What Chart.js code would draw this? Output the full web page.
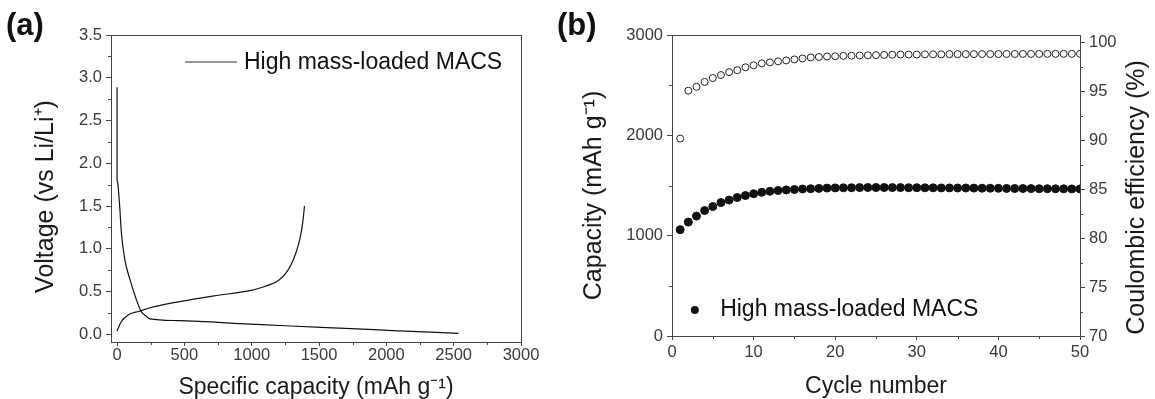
<!DOCTYPE html>
<html>
<head>
<meta charset="utf-8">
<script src="https://cdn.jsdelivr.net/npm/chart.js@4.4.1/dist/chart.umd.min.js"></script>
<style>
  html, body { margin: 0; padding: 0; background: #fff; }
  #wrap { position: relative; width: 1155px; height: 399px; overflow: hidden; }
  canvas { position: absolute; top: 0; }
  #cA { left: 0; }
  #cB { left: 560px; }
  .tag { position: absolute; top: 7px; font: bold 31px "Liberation Sans", Arial, sans-serif; color: #111; }
</style>
</head>
<body>
<div id="wrap">
  <canvas id="cA" width="560" height="399"></canvas>
  <canvas id="cB" width="595" height="399"></canvas>
  <div class="tag" style="left:6px">(a)</div>
  <div class="tag" style="left:557px">(b)</div>
</div>
<script>
/* ---------- DATA: (a) charge / discharge profile ---------- */
const dischargeCap = [0, 0, 5, 19, 32, 58, 98, 138, 178, 217, 244, 456, 986, 1251, 1781, 2046, 2536];
const dischargeV   = [2.89, 1.80, 1.77, 1.51, 1.19, 0.87, 0.63, 0.43, 0.27, 0.21, 0.18, 0.16, 0.12, 0.10, 0.064, 0.044, 0.012];
const chargeCap = [0, 32, 85, 164, 244, 456, 721, 986, 1080, 1150, 1198, 1251, 1291, 1330, 1360, 1380, 1392];
const chargeV   = [0.04, 0.15, 0.23, 0.27, 0.31, 0.38, 0.45, 0.51, 0.55, 0.59, 0.63, 0.71, 0.81, 0.96, 1.13, 1.32, 1.50];
const capTicks  = [0, 500, 1000, 1500, 2000, 2500, 3000];
const voltTicks = [0, 0.5, 1, 1.5, 2, 2.5, 3, 3.5];

/* ---------- DATA: (b) cycling ---------- */
const cycles = [1,2,3,4,5,6,7,8,9,10,11,12,13,14,15,16,17,18,19,20,21,22,23,24,25,
                26,27,28,29,30,31,32,33,34,35,36,37,38,39,40,41,42,43,44,45,46,47,48,49,50];
const capacity = [1060,1135,1195,1250,1290,1330,1355,1380,1400,1418,1432,1442,1450,1456,1460,
                  1465,1468,1471,1474,1476,1477,1478,1479,1480,1480,1480,1479,1479,1478,1478,
                  1477,1477,1476,1476,1475,1475,1474,1473,1473,1472,1471,1470,1470,1469,1468,
                  1468,1467,1467,1466,1466];
const efficiency = [90.2,95.1,95.5,96.0,96.4,96.7,97.0,97.2,97.5,97.7,97.9,98.0,98.1,98.2,98.3,
                    98.4,98.5,98.55,98.6,98.62,98.66,98.68,98.7,98.72,98.74,98.76,98.78,98.8,98.8,98.8,
                    98.82,98.82,98.82,98.84,98.84,98.84,98.84,98.85,98.85,98.85,98.86,98.86,98.86,98.86,98.86,
                    98.87,98.87,98.87,98.87,98.87];
const ceTicks = [70, 75, 80, 85, 90, 95, 100];

const seriesName = 'High mass-loaded MACS';

/* ---------- shared styling ---------- */
const FONT = '"Liberation Sans", Arial, sans-serif';
const AXIS = '#444';
const TICKTXT = '#3a3a3a';
const TITLE = '#1a1a1a';

function pairs(xs, ys) { return xs.map((x, i) => ({ x, y: ys[i] })); }
function fixedTicks(list) { return s => { s.ticks = list.map(v => ({ value: v })); }; }

// vertical axis title, reading bottom-to-top
function vTitle(ctx, text, x, y) {
  ctx.save();
  ctx.fillStyle = TITLE;
  ctx.font = '25px ' + FONT;
  ctx.textAlign = 'center';
  ctx.textBaseline = 'middle';
  ctx.translate(x, y);
  ctx.rotate(-Math.PI / 2);
  ctx.fillText(text, 0, 0);
  ctx.restore();
}

// frame box + minor ticks (major ticks come from chart.js itself)
const frameAndMinors = {
  id: 'frameAndMinors',
  afterDatasetsDraw(chart, args, opts) {
    const { ctx, chartArea: a } = chart;
    ctx.save();
    ctx.strokeStyle = AXIS;
    ctx.lineWidth = 1;
    ctx.strokeRect(Math.round(a.left) + 0.5, Math.round(a.top) + 0.5,
                   Math.round(a.right - a.left), Math.round(a.bottom - a.top));
    (opts.minors || []).forEach(m => {
      const sc = chart.scales[m.axis];
      for (let v = m.from; v <= m.to + 1e-9; v += m.step) {
        const p = Math.round(sc.getPixelForValue(v)) + 0.5;
        ctx.beginPath();
        if (m.axis === 'x') { ctx.moveTo(p, a.bottom); ctx.lineTo(p, a.bottom + 3); }
        else if (sc.position === 'left') { ctx.moveTo(a.left, p); ctx.lineTo(a.left - 3, p); }
        else { ctx.moveTo(a.right, p); ctx.lineTo(a.right + 3, p); }
        ctx.stroke();
      }
    });
    ctx.restore();
  }
};

function axisBase(min, max, title, pos) {
  const vertical = pos !== 'bottom';
  return {
    type: 'linear', position: pos, min, max,
    border: { display: false },
    grid: { drawOnChartArea: false, drawTicks: true, tickLength: vertical ? 5 : 4, color: AXIS },
    ticks: { color: TICKTXT, padding: vertical ? 4 : 0, font: { family: FONT, size: 16.5 } },
    title: { display: !!title, text: title, color: TITLE, font: { family: FONT, size: 23 } }
  };
}

/* ---------- (a) voltage profile ---------- */
const xA = axisBase(-45, 3000, 'Specific capacity (mAh g\u207B\u00B9)', 'bottom');
xA.ticks.callback = v => String(v);
xA.afterBuildTicks = fixedTicks(capTicks);
xA.afterFit = s => { s.height = 57; };
xA.title.padding = { top: 0, bottom: -2 };

const yA = axisBase(-0.09, 3.5, '', 'left');
yA.ticks.callback = v => v.toFixed(1);
yA.afterBuildTicks = fixedTicks(voltTicks);
yA.afterFit = s => { s.width = 111; };

new Chart(document.getElementById('cA'), {
  type: 'line',
  data: {
    datasets: [
      { label: seriesName, data: pairs(dischargeCap, dischargeV), borderColor: '#111', borderWidth: 1.2,
        pointRadius: 0, cubicInterpolationMode: 'monotone' },
      { label: 'charge', data: pairs(chargeCap, chargeV), borderColor: '#111', borderWidth: 1.2,
        pointRadius: 0, cubicInterpolationMode: 'monotone' }
    ]
  },
  options: {
    responsive: false, animation: false,
    layout: { padding: { left: 0, right: 39, top: 35, bottom: 0 } },
    scales: { x: xA, y: yA },
    plugins: {
      tooltip: { enabled: false },
      legend: { display: false },
      frameAndMinors: {
        minors: [
          { axis: 'x', from: 250, to: 2750, step: 500 },
          { axis: 'y', from: 0.25, to: 3.25, step: 0.5 }
        ]
      }
    }
  },
  plugins: [frameAndMinors, {
    id: 'legendA',
    afterDraw(chart) {
      const { ctx, chartArea: a } = chart;
      const y = a.top + 27;
      ctx.save();
      ctx.strokeStyle = '#333';
      ctx.lineWidth = 1.2;
      ctx.beginPath(); ctx.moveTo(a.left + 74, y); ctx.lineTo(a.left + 126, y); ctx.stroke();
      ctx.fillStyle = '#111';
      ctx.font = '23px ' + FONT;
      ctx.textBaseline = 'middle';
      ctx.fillText(seriesName, a.left + 133, y + 1);
      ctx.restore();
      vTitle(ctx, 'Voltage (vs Li/Li\u207A)', 46, (a.top + a.bottom) / 2 + 8);
    }
  }]
});

/* ---------- (b) cycling performance ---------- */
const xB = axisBase(0, 50, 'Cycle number', 'bottom');
xB.ticks.stepSize = 10;
xB.ticks.padding = 3;
xB.afterFit = s => { s.height = 63; };
xB.title.padding = { top: 0, bottom: -1 };

const yB = axisBase(0, 3000, '', 'left');
yB.ticks.stepSize = 1000;
yB.ticks.callback = v => String(v);
yB.afterFit = s => { s.width = 112; };

const y2B = axisBase(70, 100.8, '', 'right');
y2B.afterBuildTicks = fixedTicks(ceTicks);
y2B.afterFit = s => { s.width = 75; };

new Chart(document.getElementById('cB'), {
  type: 'scatter',
  data: {
    datasets: [
      { label: seriesName, data: pairs(cycles, capacity), yAxisID: 'y',
        pointStyle: 'circle', pointRadius: 4, backgroundColor: '#111', borderColor: '#111', borderWidth: 1 },
      { label: 'CE', data: pairs(cycles, efficiency), yAxisID: 'y2',
        pointStyle: 'circle', pointRadius: 3.5, backgroundColor: '#fff', borderColor: '#222', borderWidth: 1 }
    ]
  },
  options: {
    responsive: false, animation: false,
    layout: { padding: { left: 0, right: 0, top: 35, bottom: 0 } },
    scales: { x: xB, y: yB, y2: y2B },
    plugins: {
      tooltip: { enabled: false },
      legend: { display: false },
      frameAndMinors: {
        minors: [
          { axis: 'x', from: 5, to: 45, step: 10 },
          { axis: 'y', from: 500, to: 2500, step: 1000 },
          { axis: 'y2', from: 72.5, to: 97.5, step: 5 }
        ]
      }
    }
  },
  plugins: [frameAndMinors, {
    id: 'extrasB',
    afterDraw(chart) {
      const { ctx, scales, chartArea: a } = chart;
      ctx.save();
      // legend entry sits at cycle ~2.8 / 260 mAh g-1 in data space
      const px = scales.x.getPixelForValue(2.8), py = scales.y.getPixelForValue(260);
      ctx.fillStyle = '#111';
      ctx.beginPath(); ctx.arc(px, py, 4, 0, Math.PI * 2); ctx.fill();
      ctx.font = '23px ' + FONT;
      ctx.textBaseline = 'middle';
      ctx.fillText(seriesName, scales.x.getPixelForValue(5.9), py);
      ctx.restore();
      const midY = (a.top + a.bottom) / 2;
      vTitle(ctx, 'Capacity (mAh g\u207B\u00B9)', 34, midY + 10);
      vTitle(ctx, 'Coulombic efficiency (%)', scales.y2.right - 18, midY + 12);
    }
  }]
});
</script>
</body>
</html>
